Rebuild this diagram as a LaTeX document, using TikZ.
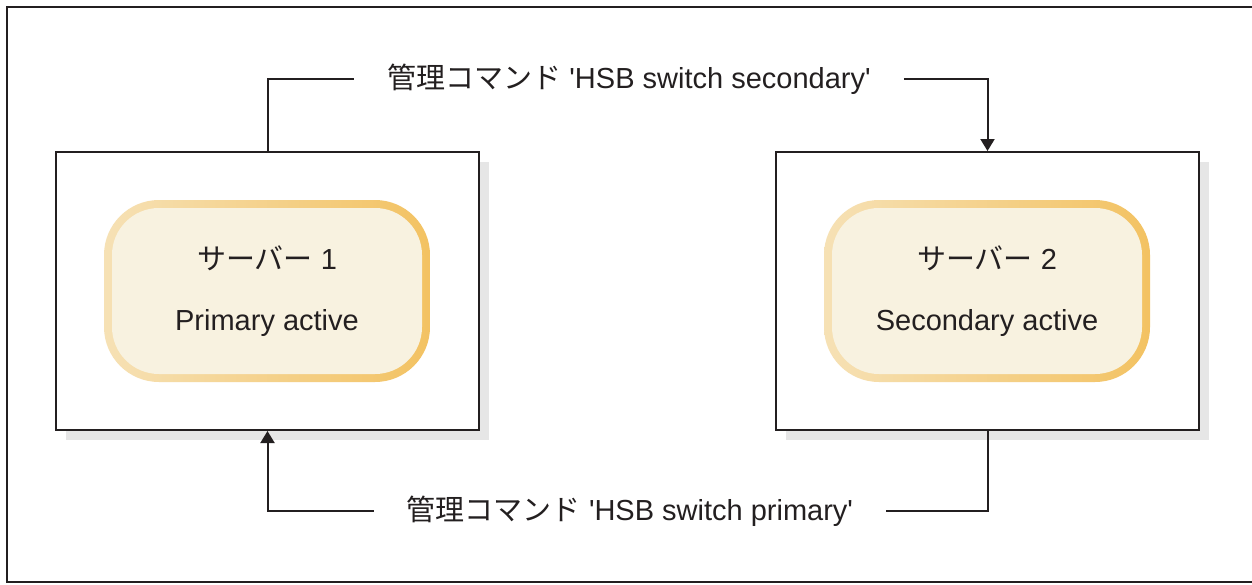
\documentclass[tikz,border=0pt]{standalone}
\usepackage{fontspec}
\setmainfont{Liberation Sans}
\newfontfamily\jpfont{Noto Sans CJK JP}
\usepackage{xcolor}
\usetikzlibrary{arrows.meta,shadows}

\definecolor{inkdark}{HTML}{231F20}
\definecolor{shadowgray}{HTML}{E6E6E6}
\definecolor{creamfill}{HTML}{F8F2E0}
\definecolor{borderlight}{HTML}{F6E1B5}
\definecolor{borderdark}{HTML}{F3C262}

\tikzset{
  hostbox/.style={draw=inkdark, line width=2pt, fill=white,
    minimum width=423pt, minimum height=278pt,
    drop shadow={shadow xshift=10pt, shadow yshift=-10pt, fill=shadowgray, opacity=1}},
  serverpill/.style={draw=none, left color=borderlight, right color=borderdark,
    rounded corners=55pt, minimum width=326pt, minimum height=182pt,
    align=center, text=inkdark,
    font=\fontsize{29}{60}\selectfont,
    path picture={\fill[creamfill, rounded corners=47pt]
      ([shift={(8pt,-8pt)}]path picture bounding box.north west) rectangle
      ([shift={(-8pt,8pt)}]path picture bounding box.south east);}},
  cmdlabel/.style={inner xsep=33pt, inner ysep=0pt, text=inkdark,
    font=\fontsize{29}{34}\selectfont},
  link/.style={draw=inkdark, line width=2pt},
  tip/.style={-{Triangle[length=12pt,width=14pt]}}
}

\begin{document}
\begin{tikzpicture}[x=1pt, y=-1pt]
  \useasboundingbox (0,0) rectangle (1252,584);
  % Draw outer frame
  \draw[inkdark, line width=2pt] (1256,7) -- (7,7) -- (7,582) -- (1256,582);
  % Draw host boxes
  \node[hostbox] (host1) at (267.5,291) {};
  \node[hostbox] (host2) at (987.5,291) {};
  % Draw servers
  \node[serverpill] (srv1) at (267,291) {\raisebox{1pt}{{\jpfont サーバー} 1}\\Primary active};
  \node[serverpill] (srv2) at (987,291) {\raisebox{1pt}{{\jpfont サーバー} 2}\\Secondary active};
  % Add command labels
  \node[cmdlabel] (cmdsec) at (629,79) {{\jpfont 管理コマンド} \textquotesingle HSB switch secondary\textquotesingle};
  \node[cmdlabel] (cmdpri) at (630,511) {{\jpfont 管理コマンド} \textquotesingle HSB switch primary\textquotesingle};
  % Draw connectors
  \draw[link] (host1.north) |- (cmdsec.west);
  \draw[link, tip] (cmdsec.east) -| (host2.north);
  \draw[link] (host2.south) |- (cmdpri.east);
  \draw[link, tip] (cmdpri.west) -| (host1.south);
\end{tikzpicture}
\end{document}
